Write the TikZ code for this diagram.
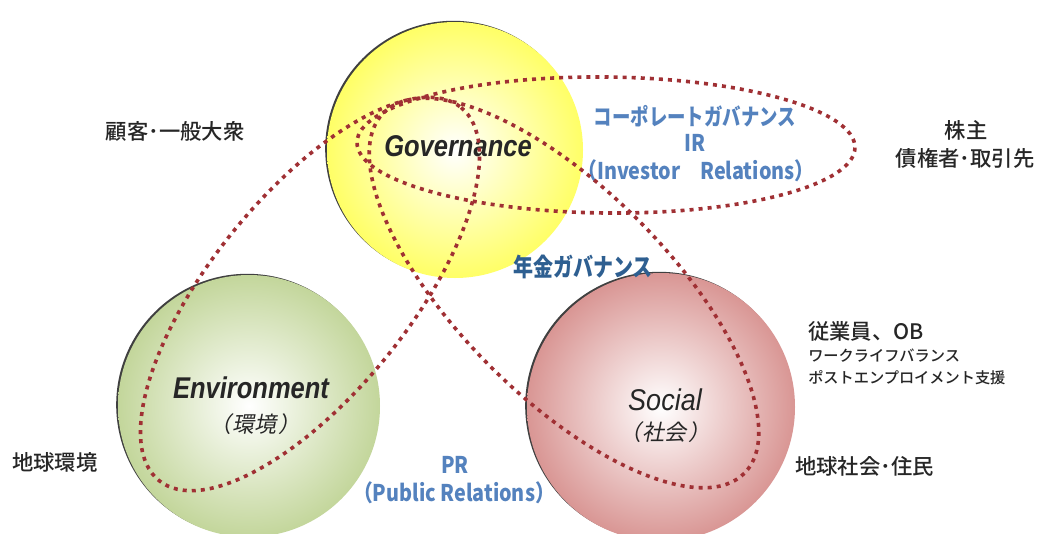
\documentclass[tikz,border=0pt]{standalone}
\usepackage{fontspec}
\setmainfont{Liberation Sans}
\newfontfamily\jp{Noto Sans CJK JP}[UprightFont={* Medium}]
\newfontfamily\jpsl{Noto Sans CJK JP}[FakeSlant=0.2]

\definecolor{ink}{RGB}{38,38,38}
\definecolor{loopred}{RGB}{160,48,52}
\definecolor{relblue}{RGB}{84,130,190}
\definecolor{penblue}{RGB}{46,95,145}
\definecolor{govyellow}{RGB}{255,255,102}
\definecolor{envgreen}{RGB}{195,214,155}
\definecolor{socred}{RGB}{217,150,148}

\tikzset{
  ballshadow/.style={fill=black!75},
  loopline/.style={draw=loopred, line width=2.7pt, dash pattern=on 3pt off 3.8pt},
  stake/.style={text=ink, inner sep=0pt, font=\jp\fontsize{16}{19}\selectfont},
  stakesmall/.style={stake, font=\jp\fontsize{11.4}{14}\selectfont},
  relbase/.style={text=relblue, inner sep=0pt,
    font=\jp\bfseries\fontsize{17.25}{20}\selectfont},
  rel/.style={relbase, xscale=0.8},
  rellatin/.style={relbase, xscale=0.86},
  pension/.style={rel, text=penblue, font=\jp\bfseries\fontsize{18.75}{22}\selectfont},
  title/.style={text=ink, inner sep=0pt, xscale=0.85,
    font=\bfseries\itshape\fontsize{22.5}{26}\selectfont},
  titlelight/.style={text=ink, inner sep=0pt, xscale=0.9,
    font=\itshape\fontsize{22.5}{26}\selectfont},
  jpsub/.style={text=ink, inner sep=0pt, font=\jpsl\fontsize{16.5}{19}\selectfont}
}

\begin{document}
\begin{tikzpicture}[x=0.75pt,y=-0.75pt]
    \useasboundingbox (0,0) rectangle (1040,533);
    \fill[white] (0,0) rectangle (1040,533);

    \fill[ballshadow] (453.2,148.8) circle [radius=128];
    \shade[inner color=white, outer color=govyellow] (455,150) circle [radius=128];
    \fill[ballshadow] (247.2,404.8) circle [radius=131];
    \shade[inner color=white, outer color=envgreen] (249,406) circle [radius=131];
    \fill[ballshadow] (659.2,405.8) circle [radius=134];
    \shade[inner color=white, outer color=socred] (661,407) circle [radius=134];

    \node[title] (govname) at (458,146) {Governance};
    \node[title] (envname) at (251,388) {Environment};
    \node[jpsub] (envjp) at (255,424) {（\kern1.5pt 環境\kern1.5pt ）};
    \node[titlelight] (socname) at (665,400) {Social};
    \node[jpsub] (socjp) at (665,432) {（\kern1.5pt 社会\kern1.5pt ）};

    \node[rel] (cgov) at (695,116) {コーポレートガバナンス};
    \node[rellatin] (ir) at (695,143) {IR};
    \node[rellatin] (irfull) at (696,171) {（Investor　Relations）};
    \node[pension] (pgov) at (583,267) {年金ガバナンス};
    \node[rellatin] (pr) at (455,465) {PR};
    \node[rellatin] (prfull) at (454,493) {（Public Relations）};

    \node[stake] (public) at (175,131) {顧客･一般大衆};
    \node[stake] (owner) at (966,130) {株主};
    \node[stake] (creditor) at (965,158) {債権者･取引先};
    \node[stake,anchor=west] (staff) at (808,331) {従業員、OB};
    \node[stakesmall,anchor=west] (wlb) at (808,356) {ワークライフバランス};
    \node[stakesmall,anchor=west] (post) at (808,378) {ポストエンプロイメント支援};
    \node[stake,anchor=west] (earth) at (12,462) {地球環境};
    \node[stake,anchor=west] (society) at (795,466) {地球社会･住民};

    \draw[loopline, rotate around={-0.6:(606,145)}] (606,145)
        ellipse [x radius=249, y radius=68];
    \draw[loopline, rotate around={51:(310,294)}] (310,294)
        ellipse [x radius=240, y radius=99];
    \draw[loopline, rotate around={-45:(564,293)}] (564,293)
        ellipse [x radius=255, y radius=104];
\end{tikzpicture}
\end{document}
